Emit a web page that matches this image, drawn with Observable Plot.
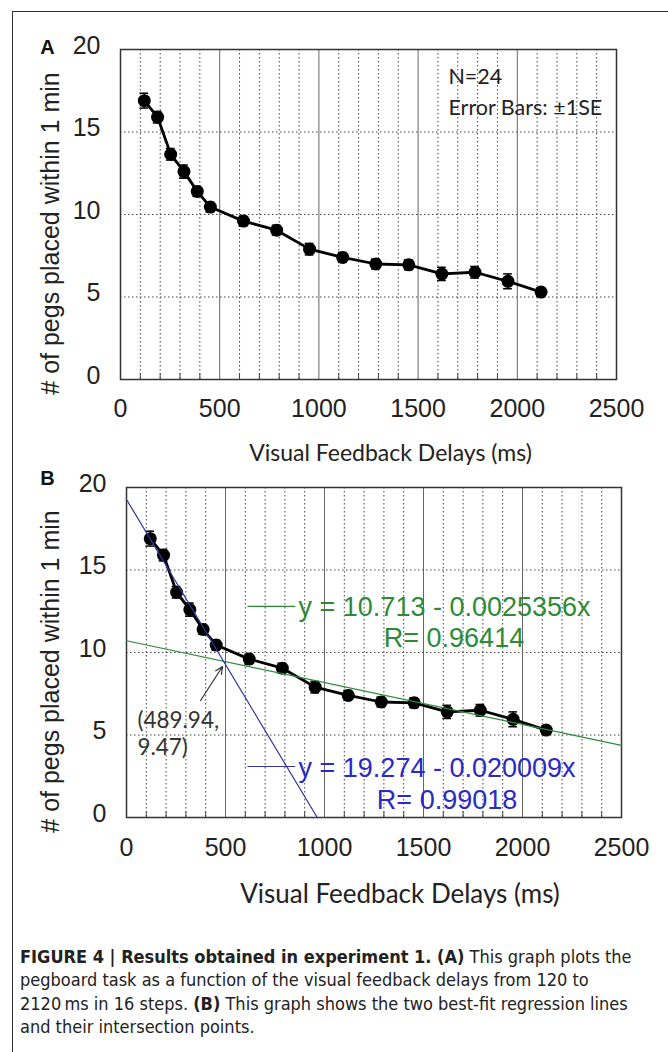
<!DOCTYPE html>
<html><head><meta charset="utf-8">
<script src="https://cdn.jsdelivr.net/npm/d3@7"></script>
<script src="https://cdn.jsdelivr.net/npm/@observablehq/plot@0.6"></script>
<style>
body{margin:0;background:#fff;}
#page{position:relative;width:668px;height:1052px;overflow:hidden;background:#fff;}
#frame{position:absolute;left:12px;top:11px;width:700px;height:1100px;border-left:1.5px solid #333;border-top:1.5px solid #333;}
#a{position:absolute;left:0;top:0;}
#b{position:absolute;left:0;top:470px;}
#caption{position:absolute;left:20px;top:945px;white-space:nowrap;font-family:"Liberation Sans Narrow","DejaVu Sans Condensed",sans-serif;font-size:18px;line-height:23.4px;color:#222;}
</style></head><body>
<div id="page"><div id="frame"></div><div id="a"></div><div id="b"></div>
<div id="caption"><b>FIGURE 4 | Results obtained in experiment 1. (A)</b> This graph plots the<br>pegboard task as a function of the visual feedback delays from 120 to<br>2120&#8201;ms in 16 steps. <b>(B)</b> This graph shows the two best-fit regression lines<br>and their intersection points.</div>
</div>
<script>
// ---- data ----
const delays = [120,187,253,320,387,453,620,787,953,1120,1287,1453,1620,1787,1953,2120];
const pegs   = [16.9,15.9,13.65,12.6,11.4,10.45,9.6,9.05,7.9,7.4,7.0,6.95,6.4,6.5,5.95,5.3];
const se     = [0.45,0.35,0.35,0.4,0.3,0.3,0.3,0.3,0.35,0.3,0.3,0.3,0.4,0.35,0.45,0.25];
const xTicks = [0,500,1000,1500,2000,2500];
const yTicks = [0,5,10,15,20];
const yGrid  = [5,10,15];
const xMajor = [500,1000,1500,2000];
const xTitle = "Visual Feedback Delays (ms)";
const yTitle = "# of pegs placed within 1 min";
const greenFit = {a:10.713, b:-0.0025356, label:"y = 10.713 - 0.0025356x", r:"R= 0.96414"};
const blueFit  = {a:19.274, b:-0.020009,  label:"y = 19.274 - 0.020009x",  r:"R= 0.99018"};
const intersection = {x:489.94, y:9.47, label:"(489.94,\n9.47)"};

const rows = delays.map((d,i)=>({x:d, y:pegs[i], lo:pegs[i]-se[i], hi:pegs[i]+se[i]}));
const xMinor = d3.range(100,2500,100).filter(v=>v%500!==0);
const sans = "'Liberation Sans', Arial, Helvetica, sans-serif";
const calib = "Lato, 'Open Sans', sans-serif";

function base(p){
  return [
    Plot.ruleX(xMinor,{stroke:"#444",strokeWidth:1,strokeDasharray:"1.5,2.5"}),
    Plot.ruleY(yGrid,{stroke:"#444",strokeWidth:1,strokeDasharray:"1.5,2.5"}),
    Plot.ruleX(xMajor,{stroke:"#666",strokeWidth:1}),
    Plot.ruleX(xMinor,{y1:0,y2:0.35,stroke:"#444",strokeWidth:1}),
    Plot.frame({stroke:"#333",strokeWidth:1.5}),
    Plot.text(xTicks,{x:d=>d,text:d=>String(d),frameAnchor:"bottom",lineAnchor:"middle",textAnchor:"middle",dy:p.xdy,fontSize:25,fontFamily:sans,fill:"#222"}),
    Plot.text(yTicks,{y:d=>d,text:d=>String(d),frameAnchor:"left",lineAnchor:"middle",textAnchor:"end",dx:-20,dy:-4,fontSize:25,fontFamily:sans,fill:"#222"}),
    Plot.text([yTitle],{frameAnchor:"left",lineAnchor:"middle",textAnchor:"middle",dx:-p.ml+50,dy:19,rotate:-90,fontSize:25,fontFamily:sans,fill:"#222"}),
    Plot.text([xTitle],{frameAnchor:"bottom",lineAnchor:"middle",textAnchor:"middle",dx:p.tdx,dy:p.tdy,fontSize:p.tfs,fontFamily:calib,fill:"#222"}),
    Plot.text([p.letter],{frameAnchor:"top-left",lineAnchor:"middle",textAnchor:"middle",dx:-p.ml+47,dy:p.ldy,fontSize:20,fontWeight:"bold",fontFamily:sans,fill:"#111"})
  ];
}
function dataMarks(){
  return [
    Plot.ruleX(rows,{x:"x",y1:"lo",y2:"hi",stroke:"#000",strokeWidth:1.5}),
    Plot.ruleY(rows,{y:"hi",x1:d=>d.x-22,x2:d=>d.x+22,stroke:"#000",strokeWidth:1.5}),
    Plot.ruleY(rows,{y:"lo",x1:d=>d.x-22,x2:d=>d.x+22,stroke:"#000",strokeWidth:1.5}),
    Plot.line(rows,{x:"x",y:"y",stroke:"#000",strokeWidth:2.8}),
    Plot.dot(rows,{x:"x",y:"y",r:6.5,fill:"#000"})
  ];
}

// ---- Panel A ----
const pa = {ml:120, xdy:29, tdx:22, tdy:74, tfs:23, letter:"A", ldy:-2};
const chartA = Plot.plot({
  width:668, height:470,
  marginLeft:pa.ml, marginRight:52, marginTop:49, marginBottom:91,
  x:{domain:[0,2500],axis:null}, y:{domain:[0,20],axis:null},
  style:{background:"transparent",overflow:"visible"},
  marks:[
    ...base(pa),
    ...dataMarks(),
    Plot.text(["N=24"],{x:1653,y:18.3,textAnchor:"start",lineAnchor:"middle",fontSize:21.5,fontFamily:calib,fill:"#222"}),
    Plot.text(["Error Bars: \u00b11SE"],{x:1653,y:16.42,textAnchor:"start",lineAnchor:"middle",fontSize:21.5,fontFamily:calib,fill:"#222"})
  ]
});
document.getElementById("a").appendChild(chartA);

// ---- Panel B ----
const gLine = [0,2500].map(x=>({x,y:greenFit.a+greenFit.b*x}));
const bLine = [0,-blueFit.a/blueFit.b].map(x=>({x,y:blueFit.a+blueFit.b*x}));
const green = "#2f8a38", blueTxt = "#2a2ac4", blueLn = "#34349a";
const pb = {ml:126, xdy:30, tdx:26, tdy:77, tfs:26, letter:"B", ldy:-9};
const chartB = Plot.plot({
  width:668, height:440,
  marginLeft:pb.ml, marginRight:47, marginTop:17, marginBottom:93,
  x:{domain:[0,2500],axis:null}, y:{domain:[0,20],axis:null},
  style:{background:"transparent",overflow:"visible"},
  marks:[
    ...base(pb),
    ...dataMarks(),
    Plot.line(gLine,{x:"x",y:"y",stroke:green,strokeWidth:1.2}),
    Plot.line(bLine,{x:"x",y:"y",stroke:blueLn,strokeWidth:1.2}),
    Plot.link([{x1:611,x2:852,y:12.79}],{x1:"x1",x2:"x2",y1:"y",y2:"y",stroke:green,strokeWidth:1.2}),
    Plot.text([greenFit.label],{x:869,y:12.75,textAnchor:"start",lineAnchor:"middle",fontSize:27,fontFamily:sans,fill:green}),
    Plot.text([greenFit.r],{x:1654,y:10.85,textAnchor:"middle",lineAnchor:"middle",fontSize:27,fontFamily:sans,fill:green}),
    Plot.link([{x1:611,x2:852,y:3.09}],{x1:"x1",x2:"x2",y1:"y",y2:"y",stroke:blueLn,strokeWidth:1.2}),
    Plot.text([blueFit.label],{x:869,y:2.97,textAnchor:"start",lineAnchor:"middle",fontSize:27,fontFamily:sans,fill:blueTxt}),
    Plot.text([blueFit.r],{x:1619,y:1.03,textAnchor:"middle",lineAnchor:"middle",fontSize:27,fontFamily:sans,fill:blueTxt}),
    Plot.arrow([{x1:374,y1:7.09,x2:485,y2:9.15}],{x1:"x1",y1:"y1",x2:"x2",y2:"y2",stroke:"#333",strokeWidth:1.2,headLength:10,headAngle:50}),
    Plot.text([intersection.label],{x:55,y:5.15,textAnchor:"start",lineAnchor:"middle",lineHeight:1.22,fontSize:22.5,fontFamily:calib,fill:"#333"})
  ]
});
document.getElementById("b").appendChild(chartB);
</script>
</body></html>
